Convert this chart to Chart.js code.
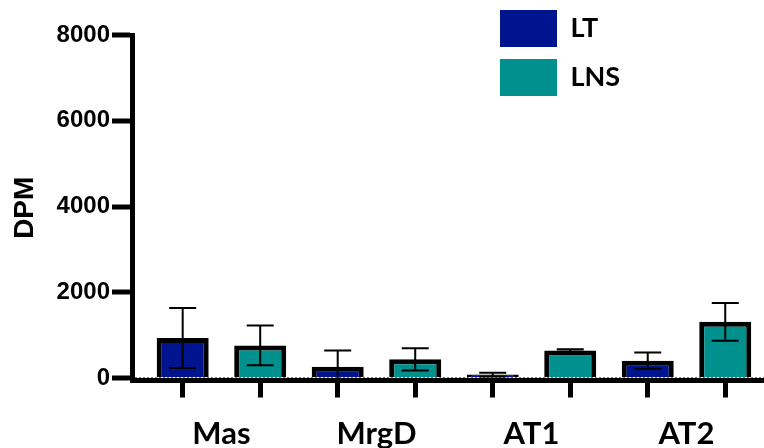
<!DOCTYPE html>
<html>
<head>
<meta charset="utf-8">
<script src="https://cdn.jsdelivr.net/npm/chart.js@4/dist/chart.umd.min.js"></script>
<style>
  html, body { margin: 0; padding: 0; background: #ffffff; }
  #wrap { position: relative; width: 764px; height: 448px; }
</style>
</head>
<body>
<div id="wrap"><canvas id="c"></canvas></div>
<script>
// ---- data ----
const categories = ['Mas', 'MrgD', 'AT1', 'AT2'];
const seriesNames = ['LT', 'LNS'];
const ltMean = [935, 260, 80, 405];
const ltErr  = [700, 380, 45, 190];
const lnsMean = [760, 435, 640, 1310];
const lnsErr  = [465, 262, 30, 440];
const yTickValues = [0, 2000, 4000, 6000, 8000];
const yTickLabels = ['0', '2000', '4000', '6000', '8000'];
const yAxisTitle = 'DPM';

const errors = [ltErr, lnsErr];

Chart.defaults.font.family = "'Liberation Sans', Arial, sans-serif";
Chart.defaults.color = '#000';

const errorBarPlugin = {
  id: 'errorBars',
  afterDatasetsDraw(chart) {
    const ctx = chart.ctx;
    const y = chart.scales.y;
    const area = chart.chartArea;
    const zeroPx = y.getPixelForValue(0);
    ctx.save();
    ctx.beginPath();
    ctx.rect(area.left, area.top - 20, area.right - area.left, zeroPx - area.top + 20);
    ctx.clip();
    ctx.strokeStyle = '#000';
    ctx.lineWidth = 2;
    chart.data.datasets.forEach((ds, i) => {
      const meta = chart.getDatasetMeta(i);
      meta.data.forEach((bar, j) => {
        const v = ds.data[j].y;
        const e = errors[i][j];
        const yt = y.getPixelForValue(v + e);
        const yb = y.getPixelForValue(v - e);
        const cx = bar.x;
        const hw = 13.5;
        ctx.beginPath();
        ctx.moveTo(cx, yt); ctx.lineTo(cx, yb);
        ctx.moveTo(cx - hw, yt); ctx.lineTo(cx + hw, yt);
        ctx.moveTo(cx - hw, yb); ctx.lineTo(cx + hw, yb);
        ctx.stroke();
      });
    });
    ctx.restore();
  }
};

const legendPlacePlugin = {
  id: 'legendPlace',
  afterLayout(chart) {
    const lg = chart.legend;
    if (!lg) return;
    lg.left = 488; lg.right = 764; lg.width = 276;
    lg.top = -2; lg.bottom = 448; lg.height = 450;
  }
};

const xMin = -0.577, xMax = 3.5;

new Chart(document.getElementById('c'), {
  type: 'bar',
  data: {
    datasets: [
      {
        label: seriesNames[0],
        xAxisID: 'x',
        yAxisID: 'y',
        data: ltMean.map((v, i) => ({ x: i, y: v })),
        backgroundColor: '#001490',
        borderColor: '#000',
        borderWidth: 5
      },
      {
        label: seriesNames[1],
        xAxisID: 'x',
        yAxisID: 'y',
        data: lnsMean.map((v, i) => ({ x: i, y: v })),
        backgroundColor: '#00918E',
        borderColor: '#000',
        borderWidth: 5
      }
    ]
  },
  options: {
    responsive: true,
    maintainAspectRatio: false,
    animation: false,
    devicePixelRatio: 1,
    layout: { padding: { top: 35, left: 0, right: 0, bottom: 0 } },
    datasets: { bar: { categoryPercentage: 1.0, barPercentage: 0.671 } },
    plugins: {
      tooltip: { enabled: false },
      legend: {
        position: 'chartArea',
        align: 'start',
        labels: {
          boxWidth: 57,
          boxHeight: 37,
          padding: 12,
          color: '#000',
          font: { family: 'Lato', weight: 'bold', size: 27 },
          generateLabels(chart) {
            const items = Chart.defaults.plugins.legend.labels.generateLabels(chart);
            return items.map(it => Object.assign(it, { lineWidth: 0, strokeStyle: 'rgba(0,0,0,0)' }));
          }
        }
      }
    },
    scales: {
      x: {
        type: 'linear',
        position: 'bottom',
        weight: 1,
        min: xMin, max: xMax,
        offset: false,
        afterBuildTicks(axis) {
          axis.ticks = categories.map((c, i) => ({ value: i }));
        },
        afterFit(axis) { axis.height = 50; },
        ticks: {
          padding: 17,
          maxRotation: 0,
          autoSkip: false,
          font: { family: 'Lato', weight: 'bold', size: 31 },
          color: '#000',
          callback: (v) => categories[Math.round(v)]
        },
        grid: { offset: false, drawOnChartArea: false, drawTicks: false },
        border: { display: false }
      },
      x2: {
        type: 'linear',
        axis: 'x',
        position: 'bottom',
        weight: 0,
        min: xMin, max: xMax,
        offset: false,
        afterBuildTicks(axis) {
          axis.ticks = categories.flatMap((c, i) => [i - 0.25, i + 0.25]).map(v => ({ value: v }));
        },
        afterFit(axis) { axis.height = 17.5; },
        ticks: { display: false },
        grid: { offset: false, drawOnChartArea: false, drawTicks: true, tickLength: 17, tickWidth: 5, tickColor: '#000' },
        border: { display: true, color: '#000', width: 5 }
      },
      y: {
        type: 'linear',
        position: 'left',
        min: -58, max: 8000,
        afterBuildTicks(axis) {
          axis.ticks = yTickValues.map(v => ({ value: v }));
        },
        afterFit(axis) { axis.width = 132; },
        ticks: {
          padding: 2,
          font: { weight: 'bold', size: 24 },
          color: '#000',
          callback: (v) => yTickLabels[yTickValues.indexOf(v)]
        },
        grid: {
          drawOnChartArea: true,
          drawTicks: true,
          tickLength: 20,
          tickWidth: 5,
          tickColor: '#000',
          lineWidth: 2,
          color: (ctx) => (ctx.tick && ctx.tick.value === 0) ? '#777' : 'rgba(0,0,0,0)'
        },
        border: { display: true, color: '#000', width: 5, dash: [2, 2] },
        title: {
          display: true,
          text: yAxisTitle,
          font: { weight: 'bold', size: 28 },
          color: '#000',
          padding: { top: 8, bottom: 0 }
        }
      }
    }
  },
  plugins: [errorBarPlugin, legendPlacePlugin]
});
</script>
</body>
</html>
